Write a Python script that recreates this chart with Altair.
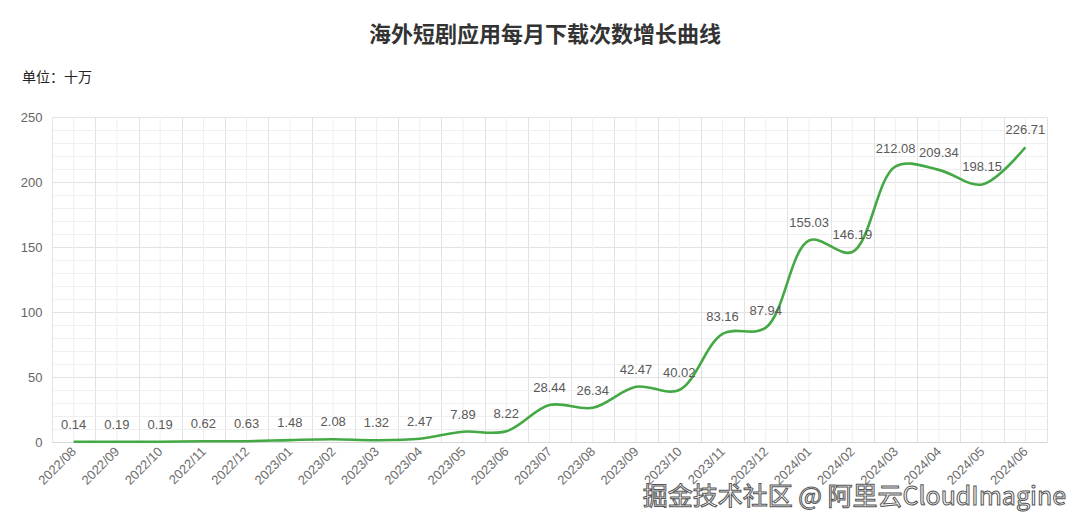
import altair as alt
import pandas as pd

months = ["2022/08", "2022/09", "2022/10", "2022/11", "2022/12",
          "2023/01", "2023/02", "2023/03", "2023/04", "2023/05", "2023/06",
          "2023/07", "2023/08", "2023/09", "2023/10", "2023/11", "2023/12",
          "2024/01", "2024/02", "2024/03", "2024/04", "2024/05", "2024/06"]
values = [0.14, 0.19, 0.19, 0.62, 0.63, 1.48, 2.08, 1.32, 2.47, 7.89, 8.22,
          28.44, 26.34, 42.47, 40.02, 83.16, 87.94, 155.03, 146.19, 212.08,
          209.34, 198.15, 226.71]
labels = [f"{v:.2f}" for v in values]

title_text = "海外短剧应用每月下载次数增长曲线"
unit_text = "单位：十万"
watermark_text = "掘金技术社区 @ 阿里云CloudImagine"
y_ticks = list(range(0, 251, 10))

df = pd.DataFrame({"month": months, "value": values, "label": labels})

FONT = "Liberation Sans"
CJK = "Noto Sans CJK SC"
GREEN = "#44a944"

x_enc = alt.X(
    "month:N", sort=months, title=None,
    scale=alt.Scale(type="band", paddingInner=0, paddingOuter=0),
    axis=alt.Axis(labelAngle=315, labelFont=FONT, labelFontSize=13,
                  labelColor="#6e6e6e", ticks=False, grid=True, tickBand="extent",
                  gridColor="#e2e2e2", domainColor="#d6d6d6", labelPadding=7,
                  labelAlign="right", labelBaseline="middle"),
)
y_enc = alt.Y(
    "value:Q", title=None,
    scale=alt.Scale(domain=[0, 250], nice=False),
    axis=alt.Axis(values=y_ticks,
                  labelExpr="datum.value % 50 === 0 ? datum.label : ''",
                  labelFont=FONT, labelFontSize=13, labelColor="#666666",
                  ticks=False, domain=False, labelPadding=10,
                  gridColor={"condition": {"test": "datum.value % 50 === 0", "value": "#e2e2e2"},
                             "value": "#efefef"}),
)

base = alt.Chart(df)

center_grid = base.mark_rule(color="#efefef", strokeWidth=1).encode(x=x_enc)

line = base.mark_line(color=GREEN, strokeWidth=2.6, interpolate="catmull-rom").encode(
    x=x_enc, y=y_enc)

text = base.mark_text(font=FONT, fontSize=13, color="#595959", dy=-17).encode(
    x=x_enc, y=y_enc, text="label:N")

title = alt.Chart(pd.DataFrame({"t": [title_text]})).mark_text(
    font=CJK, fontSize=22, fontWeight="bold", color="#333333",
    align="center", baseline="middle"
).encode(text="t:N", x=alt.value(493), y=alt.value(-82))

unit = alt.Chart(pd.DataFrame({"t": [unit_text]})).mark_text(
    font=CJK, fontSize=14, color="#222222", align="left", baseline="middle"
).encode(text="t:N", x=alt.value(-30), y=alt.value(-39))

wm = alt.Chart(pd.DataFrame({"t": [watermark_text]})).mark_text(
    font=CJK, fontSize=25, color="#ffffff", stroke="#555555", strokeWidth=1,
    align="right", baseline="middle"
).encode(text="t:N", x=alt.value(1014), y=alt.value(380))

chart = alt.layer(center_grid, line, text, title, unit, wm).properties(
    width=995, height=325,
    autosize=alt.AutoSizeParams(type="none"),
    padding={"left": 44, "top": 109, "right": 25, "bottom": 70},
).configure_view(stroke=None)

chart.save("out.html", embed_options={"renderer": "svg", "actions": False})
